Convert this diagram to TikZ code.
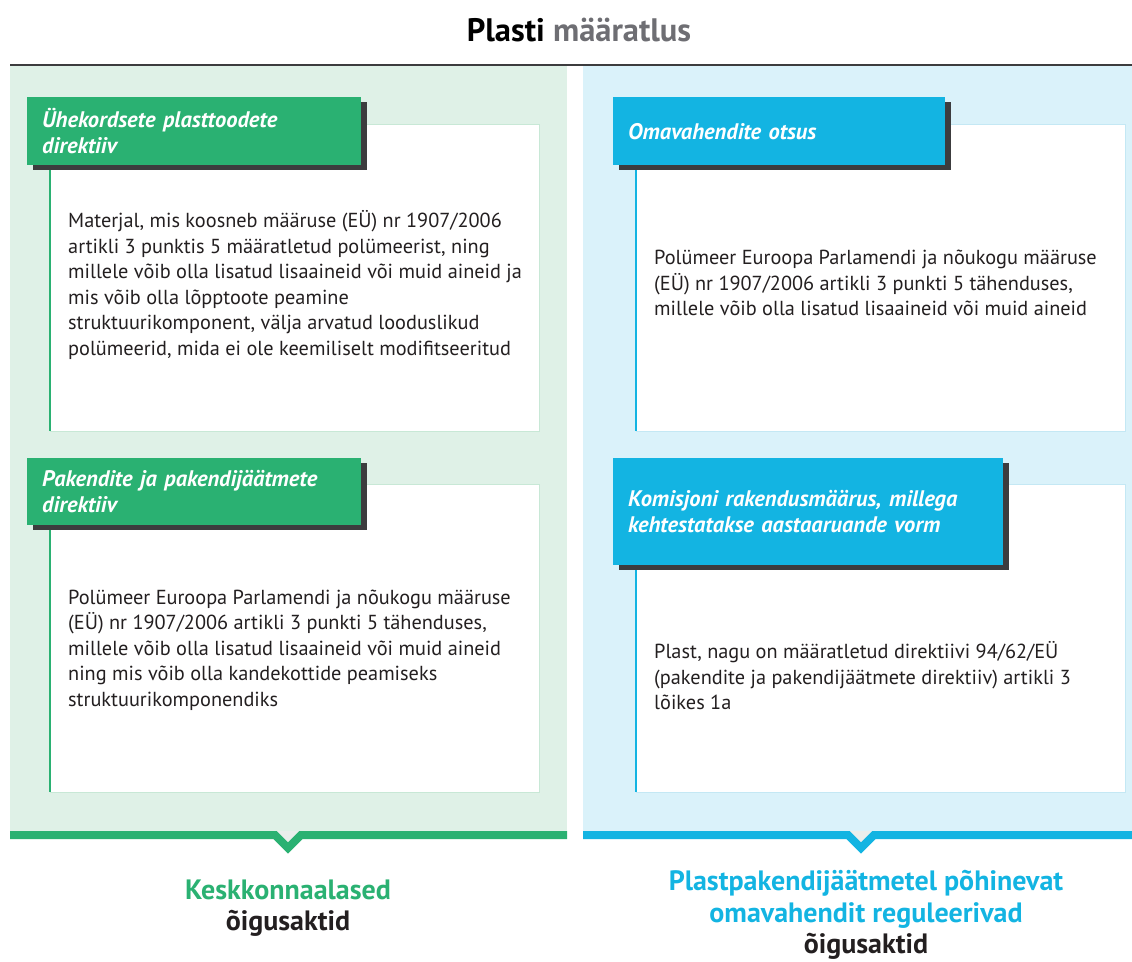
\documentclass[tikz,border=0pt]{standalone}
\usepackage{fontspec}
\setmainfont{PT Sans}
\usetikzlibrary{shadows}
\definecolor{hgreen}{RGB}{42,177,114}
\definecolor{hblue}{RGB}{19,180,226}
\definecolor{pgreen}{RGB}{223,241,231}
\definecolor{pblue}{RGB}{218,242,250}
\definecolor{shgrey}{RGB}{60,60,62}
\definecolor{bodytext}{RGB}{35,31,32}
\definecolor{titlegrey}{RGB}{110,110,115}
\definecolor{notchgrey}{RGB}{234,238,236}
\definecolor{boxedgeG}{RGB}{200,232,214}
\definecolor{boxedgeB}{RGB}{196,232,244}
\tikzset{
  panel/.style={draw=none, inner sep=0},
  wbox/.style={fill=white, draw=#1, line width=1pt},
  hdr/.style={fill=#1, draw=none, anchor=north west, inner xsep=15pt, inner ysep=0pt,
    text=white, align=left, font=\fontsize{22.5}{26}\selectfont\bfseries\itshape,
    drop shadow={shadow xshift=6pt, shadow yshift=-5pt, fill=shgrey, opacity=1}},
  body/.style={anchor=west, align=left, inner sep=0, text=bodytext,
    font=\fontsize{20.3}{25.5}\selectfont},
  accent/.style={draw=#1, line width=2.5pt},
  baseline/.style={draw=#1, line width=8pt, miter limit=10},
  label/.style={align=center, inner sep=0, font=\fontsize{28}{31.5}\selectfont\bfseries, text=bodytext},
}
\begin{document}
\begin{tikzpicture}[x=1pt,y=-1pt]
\useasboundingbox (0,0) rectangle (1132,961);
% title
\node[inner sep=0, font=\fontsize{32.5}{34}\selectfont\bfseries] (title) at (579,30) {Plasti \textcolor{titlegrey}{määratlus}};
% panels
\fill[pgreen] (10,66) rectangle (567,835);
\fill[pblue] (583,66) rectangle (1132,835);
\draw[shgrey, line width=2.5pt] (10,65) -- (1132,65);
% white boxes
\draw[wbox=boxedgeG] (50,124) rectangle (539,431);
\draw[wbox=boxedgeB] (636,124) rectangle (1125,431);
\draw[wbox=boxedgeG] (50,484) rectangle (539,792);
\draw[wbox=boxedgeB] (636,484) rectangle (1125,792);
% headers
\node[hdr=hgreen, text width=304pt, minimum height=68pt] (hl1) at (27,97)
  {Ühekordsete plasttoodete\\direktiiv};
\node[hdr=hblue, text width=302pt, minimum height=68pt] (hr1) at (613,97)
  {Omavahendite otsus};
\node[hdr=hgreen, text width=304pt, minimum height=67pt] (hl2) at (27,458)
  {Pakendite ja pakendijäätmete\\direktiiv};
\node[hdr=hblue, text width=360pt, minimum height=107pt] (hr2) at (613,458)
  {Komisjoni rakendusmäärus, millega\\kehtestatakse aastaaruande vorm};
% accent lines
\coordinate (el1) at (50,431);
\coordinate (er1) at (636,431);
\coordinate (el2) at (50,792);
\coordinate (er2) at (636,792);
\draw[accent=hgreen] (hl1.south west -| el1) ++(0,5) -- (el1);
\draw[accent=hblue] (hr1.south west -| er1) ++(0,5) -- (er1);
\draw[accent=hgreen] (hl2.south west -| el2) ++(0,5) -- (el2);
\draw[accent=hblue] (hr2.south west -| er2) ++(0,5) -- (er2);
% body texts
\node[body] (tl1) at (68,285) {Materjal, mis koosneb määruse (EÜ) nr 1907/2006\\
artikli 3 punktis 5 määratletud polümeerist, ning\\
millele võib olla lisatud lisaaineid või muid aineid ja\\
mis võib olla lõpptoote peamine\\
struktuurikomponent, välja arvatud looduslikud\\
polümeerid, mida ei ole keemiliselt modifitseeritud};
\node[body] (tr1) at (654,283) {Polümeer Euroopa Parlamendi ja nõukogu määruse\\
(EÜ) nr 1907/2006 artikli 3 punkti 5 tähenduses,\\
millele võib olla lisatud lisaaineid või muid aineid};
\node[body] (tl2) at (68,650) {Polümeer Euroopa Parlamendi ja nõukogu määruse\\
(EÜ) nr 1907/2006 artikli 3 punkti 5 tähenduses,\\
millele võib olla lisatud lisaaineid või muid aineid\\
ning mis võib olla kandekottide peamiseks\\
struktuurikomponendiks};
\node[body] (tr2) at (654,676) {Plast, nagu on määratletud direktiivi 94/62/EÜ\\
(pakendite ja pakendijäätmete direktiiv) artikli 3\\
lõikes 1a};
% bottom lines with notches
\fill[notchgrey] (276,831) -- (288,843) -- (300,831) -- cycle;
\fill[notchgrey] (849,831) -- (861,843) -- (873,831) -- cycle;
\draw[baseline=hgreen] (10,835) -- (275,835) -- (288,848) -- (301,835) -- (567,835);
\draw[baseline=hblue] (583,835) -- (848,835) -- (861,848) -- (874,835) -- (1132,835);
% bottom labels
\node[label] (ll) at (288,908) {\textcolor{hgreen}{Keskkonnaalased}\\õigusaktid};
\node[label] (lr) at (866,915) {\textcolor{hblue}{Plastpakendijäätmetel põhinevat}\\\textcolor{hblue}{omavahendit reguleerivad}\\õigusaktid};
\end{tikzpicture}
\end{document}
